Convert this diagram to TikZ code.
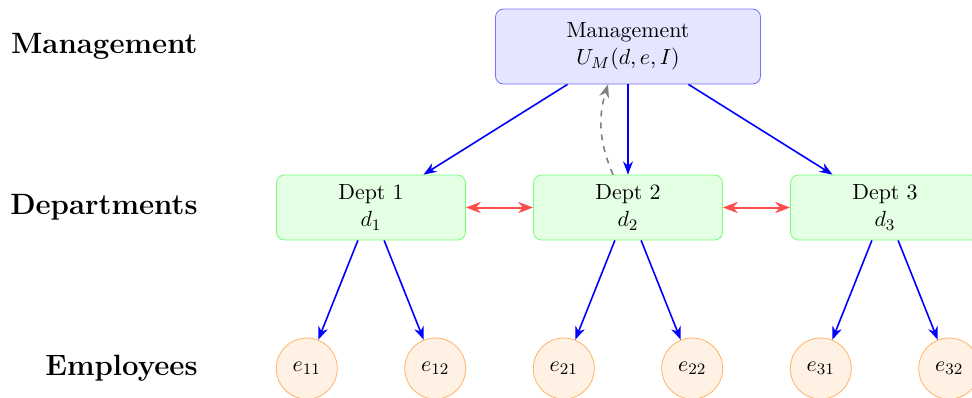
\documentclass[tikz,border=0pt,11pt]{standalone}
\usepackage{amsmath}
\usetikzlibrary{arrows.meta, positioning}

\tikzset{
  mgmt/.style={draw=blue!55, fill=blue!10, rounded corners=4pt, align=center,
    minimum width=132.5pt, minimum height=37.5pt, inner sep=4pt},
  dept/.style={draw=green!55, fill=green!10, rounded corners=4pt, align=center,
    minimum width=94.5pt, minimum height=32.5pt, inner sep=4pt},
  emp/.style={circle, draw=orange!60, fill=orange!10, minimum size=30.5pt, inner sep=0pt},
  layer/.style={font=\fontsize{14.7pt}{17.6pt}\selectfont\bfseries, anchor=east, inner sep=0pt},
  down/.style={->, blue, thick},
  peer/.style={<->, red!70, line width=1pt},
  report/.style={->, gray, thick, dashed}
}

\begin{document}
\begin{tikzpicture}[>=Stealth, on grid, node distance=80.5pt and 128.5pt]
        \useasboundingbox (-314pt,-94.75pt) rectangle (172pt,103.75pt);

        \node[dept] (D2) at (0,0) {Dept 2\\$d_2$};
        \node[mgmt] (M) [above=of D2] {Management\\$U_M(d, e, I)$};
        \node[dept] (D1) [left=of D2] {Dept 1\\$d_1$};
        \node[dept] (D3) [right=of D2] {Dept 3\\$d_3$};

        % employees
        \node[emp] (E11) [below left=80.5pt and 32.1pt of D1] {$e_{11}$};
        \node[emp] (E12) [below right=80.5pt and 32.1pt of D1] {$e_{12}$};
        \node[emp] (E21) [below left=80.5pt and 32.1pt of D2] {$e_{21}$};
        \node[emp] (E22) [below right=80.5pt and 32.1pt of D2] {$e_{22}$};
        \node[emp] (E31) [below left=80.5pt and 32.1pt of D3] {$e_{31}$};
        \node[emp] (E32) [below right=80.5pt and 32.1pt of D3] {$e_{32}$};

        % level labels
        \coordinate (lx) at (-215pt,0);
        \node[layer] (LM) at (lx |- M) {Management};
        \node[layer] (LD) at (lx |- D2) {Departments};
        \node[layer] (LE) at (lx |- E21) {Employees};

        \draw[down] (M) -- (D1);
        \draw[down] (M) -- (D2);
        \draw[down] (M) -- (D3);
        \foreach \d in {1,2,3} {
            \draw[down] (D\d) -- (E\d1);
            \draw[down] (D\d) -- (E\d2);
        }

        \draw[peer] (D1) -- (D2);
        \draw[peer] (D2) -- (D3);

        \draw[report] ([xshift=-7.5pt]D2.north) to[bend left=20] ([xshift=-10pt]M.south);

        \end{tikzpicture}
\end{document}
